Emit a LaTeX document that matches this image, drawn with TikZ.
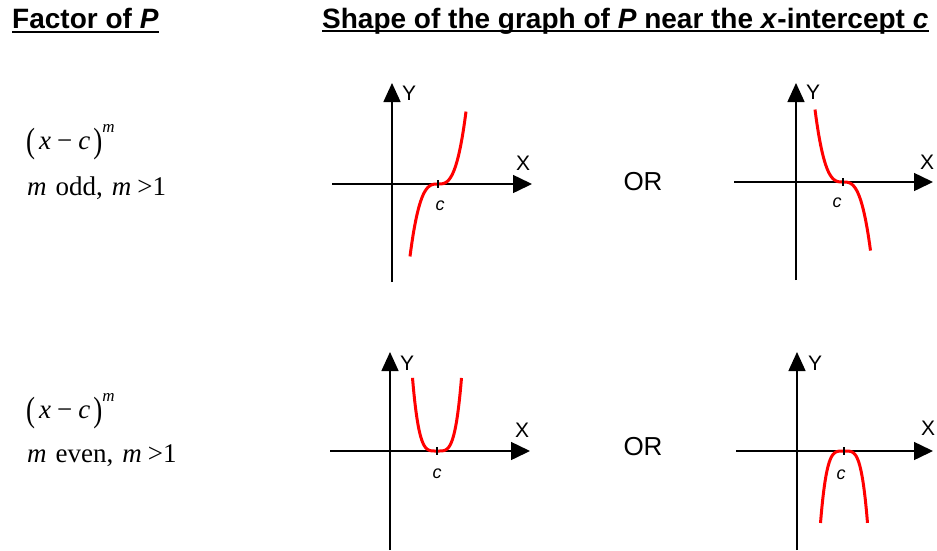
\documentclass[tikz,border=0pt]{standalone}
\usepackage{graphicx}
\usepackage{fontspec}
\setmainfont{Liberation Serif}
\newfontfamily\headfont{Liberation Sans}
\usetikzlibrary{arrows.meta}
\tikzset{
  axis/.style={line width=1.5pt,-{Triangle[length=19pt,width=18pt]}},
  yaxisline/.style={line width=1.5pt,-{Triangle[length=19pt,width=17pt]}},
  tickmark/.style={line width=1.5pt},
  curve/.style={red,line width=3pt},
  axlabel/.style={inner sep=0pt,font=\headfont\fontsize{21}{21}\selectfont},
  clabel/.style={inner sep=0pt,font=\headfont\itshape\fontsize{18}{18}\selectfont},
  heading/.style={inner sep=0pt,anchor=base west,font=\headfont\bfseries\fontsize{28}{30}\selectfont},
  factortext/.style={inner sep=0pt,anchor=base west,font=\fontsize{27}{30}\selectfont},
  ortext/.style={inner sep=0pt,font=\headfont\fontsize{26}{26}\selectfont},
  uline/.style={line width=2pt}
}
\newcommand{\bigparen}[1]{\raisebox{-3pt}{\scalebox{1}[1.3]{#1}}}
\newcommand{\supm}{\raisebox{17pt}{\fontsize{17}{17}\selectfont\textit{m}}}
\newcommand{\factorexpr}{\bigparen{(}\hspace{4pt}\textit{x}\hspace{6pt}−\hspace{6pt}\textit{c}\hspace{3pt}\bigparen{)}\supm}
\begin{document}
\begin{tikzpicture}[x=1pt,y=-1pt]
\useasboundingbox (0,0) rectangle (937,550);

% headings
\node[heading] (h1) at (12,28) {Factor of \textit{P}};
\draw[uline] ([yshift=-4pt]h1.base west) -- ([yshift=-4pt]h1.base east);
\node[heading] (h2) at (322,28) {Shape of the graph of \textit{P} near the \textit{x}-intercept \textit{c}};
\draw[uline] ([yshift=-3pt]h2.base west) -- ([yshift=-3pt]h2.base east);

% factor texts
\node[factortext] (f1a) at (26,149) {\factorexpr};
\node[factortext] (f1b) at (27,195) {\textit{m}\hspace{9pt}odd,\hspace{9pt}\textit{m}\hspace{6pt}>1};
\node[factortext] (f2a) at (26,418) {\factorexpr};
\node[factortext] (f2b) at (27,462) {\textit{m}\hspace{9pt}even,\hspace{9pt}\textit{m}\hspace{6pt}>1};

% OR
\node[ortext] (or1) at (643,182) {OR};
\node[ortext] (or2) at (643,447) {OR};

% ---- graph 1 ----
\coordinate (g1yb) at (392,282); \coordinate (g1yt) at (392,83);
\coordinate (g1xl) at (332,184); \coordinate (g1xr) at (532,184);
\draw[yaxisline] (g1yb) -- (g1yt);
\draw[axis] (g1xl) -- (g1xr);
\node[axlabel] (g1Y) at (409,93) {Y};
\node[axlabel] (g1X) at (523,163) {X};
\draw[curve] plot[domain=-2.8:2.8,samples=60,smooth] ({438+10*\x},{184-3.3*\x*\x*\x});
\draw[tickmark] (438,180) -- (438,188);
\node[clabel] (g1c) at (440,206) {c};

% ---- graph 2 ----
\coordinate (g2yb) at (796,280); \coordinate (g2yt) at (796,83);
\coordinate (g2xl) at (734,182); \coordinate (g2xr) at (933,182);
\draw[yaxisline] (g2yb) -- (g2yt);
\draw[axis] (g2xl) -- (g2xr);
\node[axlabel] (g2Y) at (813,92) {Y};
\node[axlabel] (g2X) at (927,162) {X};
\draw[curve] plot[domain=-2.8:2.75,samples=60,smooth] ({843+10*\x},{182+3.3*\x*\x*\x});
\draw[tickmark] (843,178) -- (843,186);
\node[clabel] (g2c) at (837,203) {c};

% ---- graph 3 ----
\coordinate (g3yb) at (390,550); \coordinate (g3yt) at (390,352);
\coordinate (g3xl) at (330,451); \coordinate (g3xr) at (530,451);
\draw[yaxisline] (g3yb) -- (g3yt);
\draw[axis] (g3xl) -- (g3xr);
\node[axlabel] (g3Y) at (407,363) {Y};
\node[axlabel] (g3X) at (522,430) {X};
\draw[curve] plot[domain=-2.45:2.45,samples=60,smooth] ({437+10*\x},{451-2.03*\x*\x*\x*\x});
\draw[tickmark] (437,447) -- (437,455);
\node[clabel] (g3c) at (437,474) {c};

% ---- graph 4 ----
\coordinate (g4yb) at (797,550); \coordinate (g4yt) at (797,352);
\coordinate (g4xl) at (736,451); \coordinate (g4xr) at (933,451);
\draw[yaxisline] (g4yb) -- (g4yt);
\draw[axis] (g4xl) -- (g4xr);
\node[axlabel] (g4Y) at (815,363) {Y};
\node[axlabel] (g4X) at (928,428) {X};
\draw[curve] plot[domain=-2.35:2.35,samples=60,smooth] ({844+10*\x},{451+2.36*\x*\x*\x*\x});
\draw[tickmark] (844,447) -- (844,455);
\node[clabel] (g4c) at (841,475) {c};
\end{tikzpicture}
\end{document}
